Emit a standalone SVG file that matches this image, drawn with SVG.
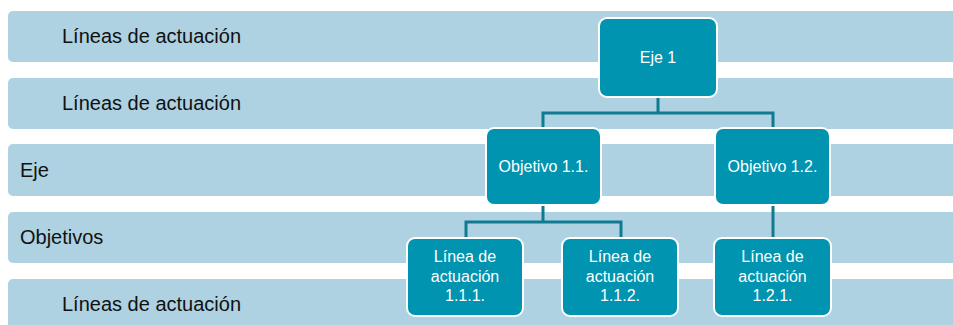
<svg xmlns="http://www.w3.org/2000/svg" width="953" height="325" viewBox="0 0 953 325">
<style>
.band{fill:#AED2E1}
.bt{font-family:"Liberation Sans",Arial,sans-serif;font-size:20px;fill:#111}
.box{fill:#0094B0;stroke:#fff;stroke-width:2}
.nt{font-family:"Liberation Sans",Arial,sans-serif;font-size:16px;fill:#fff;text-anchor:middle}
.con{fill:none;stroke:#0F7A90;stroke-width:3}
</style>
<rect width="953" height="325" fill="#fff"/>
<g id="bands">
<rect class="band" x="8" y="11" width="960" height="51" rx="5"/>
<rect class="band" x="8" y="78" width="960" height="51" rx="5"/>
<rect class="band" x="8" y="144" width="960" height="52" rx="5"/>
<rect class="band" x="8" y="212" width="960" height="51" rx="5"/>
<rect class="band" x="8" y="279" width="960" height="60" rx="5"/>
<text class="bt" x="62" y="43">Líneas de actuación</text>
<text class="bt" x="62" y="110">Líneas de actuación</text>
<text class="bt" x="20" y="177">Eje</text>
<text class="bt" x="20" y="244">Objetivos</text>
<text class="bt" x="62" y="311">Líneas de actuación</text>
</g>
<g id="connectors">
<path class="con" d="M658 97V113M543 128V113H773V128"/>
<path class="con" d="M543 205V222M466 238V222H621V238"/>
<path class="con" d="M773 205V238"/>
</g>
<g id="eje1"><rect class="box" x="599" y="18" width="118" height="79" rx="8"/><text class="nt" x="658" y="63">Eje 1</text></g>
<g id="obj11"><rect class="box" x="486" y="128" width="115" height="77" rx="8"/><text class="nt" x="543.5" y="172">Objetivo 1.1.</text></g>
<g id="obj12"><rect class="box" x="715" y="128" width="115" height="77" rx="8"/><text class="nt" x="772.5" y="172">Objetivo 1.2.</text></g>
<g id="l111"><rect class="box" x="407" y="238" width="116" height="78" rx="8"/><text class="nt" x="465" y="262">Línea de</text><text class="nt" x="465" y="281.5">actuación</text><text class="nt" x="465" y="301">1.1.1.</text></g>
<g id="l112"><rect class="box" x="562" y="238" width="116" height="78" rx="8"/><text class="nt" x="620" y="262">Línea de</text><text class="nt" x="620" y="281.5">actuación</text><text class="nt" x="620" y="301">1.1.2.</text></g>
<g id="l121"><rect class="box" x="714" y="238" width="117" height="78" rx="8"/><text class="nt" x="772.5" y="262">Línea de</text><text class="nt" x="772.5" y="281.5">actuación</text><text class="nt" x="772.5" y="301">1.2.1.</text></g>
</svg>
